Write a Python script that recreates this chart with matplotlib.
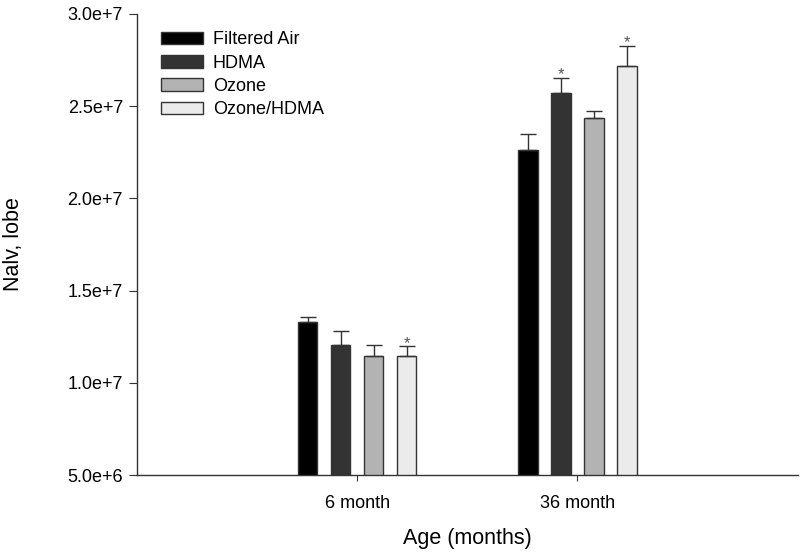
import numpy as np
import matplotlib
matplotlib.use("Agg")
import matplotlib.pyplot as plt

plt.rcParams['font.family'] = ['Liberation Sans', 'DejaVu Sans']

ages = ["6 month", "36 month"]
groups = ["Filtered Air", "HDMA", "Ozone", "Ozone/HDMA"]
colors = ["#000000", "#333333", "#b3b3b3", "#ebebeb"]

# mean values per group (rows: groups, cols: ages)
fa = [1.330e7, 2.262e7]
hdma = [1.203e7, 2.571e7]
ozone = [1.148e7, 2.437e7]
oz_hdma = [1.148e7, 2.719e7]

fa_err = [0.027e7, 0.087e7]
hdma_err = [0.076e7, 0.084e7]
ozone_err = [0.055e7, 0.038e7]
oz_hdma_err = [0.051e7, 0.108e7]

# significance markers
hdma_sig = [False, True]
oz_hdma_sig = [True, True]

means = [fa, hdma, ozone, oz_hdma]
errs = [fa_err, hdma_err, ozone_err, oz_hdma_err]
sigs = [[False, False], hdma_sig, [False, False], oz_hdma_sig]

fig = plt.figure(figsize=(8, 5.55), dpi=100)
ax = fig.add_axes([0.171, 0.144, 0.826, 0.831])

x = np.arange(len(ages))
w = 0.089
offsets = [-0.225, -0.075, 0.075, 0.225]

for i in range(len(groups)):
    ax.bar(x + offsets[i], means[i], w, bottom=0, color=colors[i],
           edgecolor="#333333", linewidth=1.0, label=groups[i], zorder=2)
    # only upper error bars
    ax.errorbar(x + offsets[i], means[i], yerr=[np.zeros(2), errs[i]],
                fmt="none", ecolor="#333333", elinewidth=1.0, capsize=6,
                capthick=1.0, zorder=3)
    for j in range(len(ages)):
        if sigs[i][j]:
            ax.text(x[j] + offsets[i], means[i][j] + errs[i][j] - 0.025e7, "*",
                    ha="center", va="bottom", fontsize=12, color="#555555")

ax.set_xlim(-1, 2)
ax.set_ylim(5e6, 3e7)
yt = np.arange(5e6, 3.01e7, 5e6)
ax.set_yticks(yt)
ax.set_yticklabels(["%.1fe+%d" % (v / 10 ** int(np.log10(v)), int(np.log10(v)))
                    for v in yt])
ax.set_xticks(x)
ax.set_xticklabels(ages)

ax.spines["top"].set_visible(False)
ax.spines["right"].set_visible(False)
for s in ["left", "bottom"]:
    ax.spines[s].set_color("#333333")
    ax.spines[s].set_linewidth(1.0)
ax.tick_params(axis="y", length=6, color="#333333", labelsize=13, pad=4)
ax.tick_params(axis="x", length=4, color="#333333", labelsize=13, pad=10)

ax.set_ylabel("Nalv, lobe", fontsize=15.5, labelpad=31)
ax.set_xlabel("Age (months)", fontsize=15.5, labelpad=12)

ax.legend(loc="upper left", bbox_to_anchor=(0.036, 0.962), frameon=False,
          fontsize=13, handlelength=2.35, handleheight=0.7, handletextpad=0.55,
          labelspacing=0.35, borderaxespad=0, borderpad=0)

fig.savefig("out.png", dpi=100)
